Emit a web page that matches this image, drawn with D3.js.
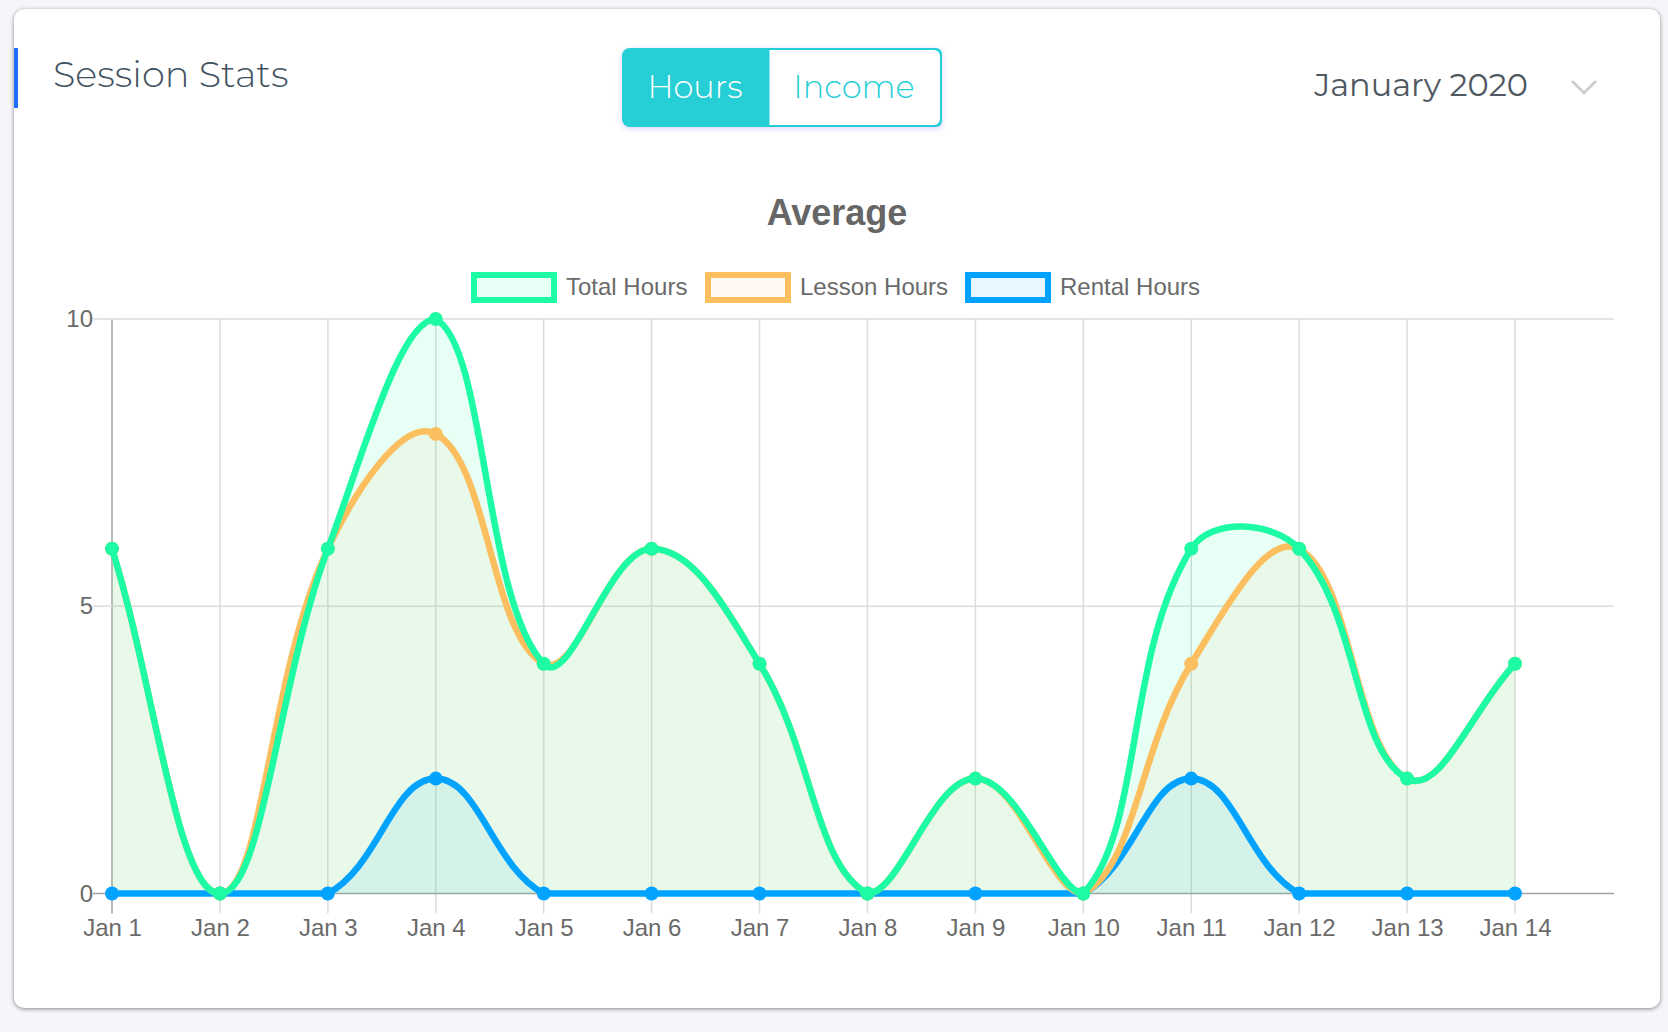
<!DOCTYPE html>
<html><head><meta charset="utf-8">
<script src="https://cdnjs.cloudflare.com/ajax/libs/d3/7.8.5/d3.min.js"></script>
<style>
html,body{margin:0;padding:0;background:#f4f6fa;width:1668px;height:1032px;overflow:hidden}
svg{display:block}
</style></head><body><svg id="c" width="1668" height="1032"></svg>
<script>
const labels=["Jan 1","Jan 2","Jan 3","Jan 4","Jan 5","Jan 6","Jan 7","Jan 8","Jan 9","Jan 10","Jan 11","Jan 12","Jan 13","Jan 14"];
const total=[6,0,6,10,4,6,4,0,2,0,6,6,2,4];
const lesson=[6,0,6,8,4,6,4,0,2,0,4,6,2,4];
const rental=[0,0,0,2,0,0,0,0,0,0,2,0,0,0];
const yTicks=[0,5,10];
const seriesNames=["Total Hours","Lesson Hours","Rental Hours"];
const colors=["#1dfba5","#fbbf5f","#02a2ff"];
const fills=["rgba(29,251,165,0.1)","rgba(251,191,95,0.09)","rgba(2,162,255,0.09)"];
const svg=d3.select("#c");
const M="Montserrat, 'Open Sans', Lato, sans-serif";
const H="'Liberation Sans', Arial, sans-serif";
const textGrey="#6a6a6a";
svg.append("rect").attr("x",14).attr("y",9).attr("width",1646).attr("height",999).attr("rx",10)
 .attr("fill","#fff").style("filter","drop-shadow(0 1px 2px rgba(0,0,0,.45))");
svg.append("rect").attr("x",14).attr("y",48).attr("width",4).attr("height",60).attr("fill","#1f70fb");
svg.append("text").attr("x",53).attr("y",87).attr("font-family",M).attr("font-weight",300).attr("font-size",36.7).attr("fill","#3f5260").text("Session Stats");
svg.append("path").attr("d","M630,48H936a6,6 0 0 1 6,6V121a6,6 0 0 1-6,6H630a8,8 0 0 1-8-8V56a8,8 0 0 1 8-8Z").attr("fill","#26ced6").style("filter","drop-shadow(0 2px 3px rgba(90,70,255,.22))");
svg.append("path").attr("d","M769.5,50H934a6,6 0 0 1 6,6V119a6,6 0 0 1-6,6H769.5Z").attr("fill","#fff");
svg.append("text").attr("x",695).attr("y",98).attr("text-anchor","middle").attr("font-family",M).attr("font-weight",300).attr("font-size",32).attr("fill","#fff").text("Hours");
svg.append("text").attr("x",854).attr("y",98).attr("text-anchor","middle").attr("font-family",M).attr("font-weight",300).attr("font-size",32).attr("fill","#26ced6").text("Income");
svg.append("text").attr("x",1528).attr("y",96).attr("text-anchor","end").attr("font-family",M).attr("font-weight",400).attr("font-size",32).attr("fill","#50585f").text("January 2020");
svg.append("path").attr("d","M1572,81L1584,93L1596,81").attr("fill","none").attr("stroke","#c8ccd0").attr("stroke-width",2.5);
svg.append("text").attr("x",837).attr("y",225).attr("text-anchor","middle").attr("font-family",H).attr("font-weight",700).attr("font-size",36).attr("fill","#666").text("Average");
const x=d3.scalePoint().domain(labels).range([112,1515]);
const y=d3.scaleLinear().domain([0,10]).range([893.5,319]);
const g=svg.append("g");
const gx=g.append("g").attr("transform","translate(0,893.5)").call(d3.axisBottom(x).tickSize(0).tickPadding(25));
gx.selectAll(".domain").remove();
gx.selectAll("text").attr("font-family",H).attr("font-size",24).attr("fill",textGrey);
const gy=g.append("g").attr("transform","translate(112,0)").call(d3.axisLeft(y).tickValues(yTicks).tickSize(0).tickPadding(19).tickFormat(d3.format("d")));
gy.selectAll(".domain").remove();
gy.selectAll("text").attr("font-family",H).attr("font-size",24).attr("fill",textGrey);
g.selectAll("line.v").data(labels).join("line").attr("class","v").attr("x1",d=>x(d)).attr("x2",d=>x(d)).attr("y1",y(10)).attr("y2",y(0)+20).attr("stroke",(d,i)=>i?"#dcdcdc":"#a2a2a2").attr("stroke-width",1.5);
g.selectAll("line.h").data(yTicks).join("line").attr("class","h").attr("x1",x(labels[0])-19).attr("x2",1614).attr("y1",d=>y(d)).attr("y2",d=>y(d)).attr("stroke",d=>d?"#dcdcdc":"#a2a2a2").attr("stroke-width",1.5);

// Chart.js-style spline with tension 0.4, control points capped to the plot area
const plotTop=y(10), plotBottom=y(0), tension=0.4;
function SplineCurve(context){this._context=context;}
SplineCurve.prototype={
 areaStart(){this._line=0;},
 areaEnd(){this._line=NaN;},
 lineStart(){this._pts=[];},
 point(px,py){this._pts.push([+px,+py]);},
 lineEnd(){
  const p=this._pts,n=p.length,c=this._context;
  const ctrl=p.map((cur,i)=>{
   const a=p[Math.max(i-1,0)],b=p[Math.min(i+1,n-1)];
   const d01=Math.hypot(cur[0]-a[0],cur[1]-a[1]),d12=Math.hypot(b[0]-cur[0],b[1]-cur[1]);
   const sum=d01+d12||1,fa=tension*d01/sum,fb=tension*d12/sum;
   const cap=v=>Math.min(plotBottom,Math.max(plotTop,v));
   return {pv:[cur[0]-fa*(b[0]-a[0]),cap(cur[1]-fa*(b[1]-a[1]))],nx:[cur[0]+fb*(b[0]-a[0]),cap(cur[1]+fb*(b[1]-a[1]))]};
  });
  if(this._line===1)c.lineTo(p[0][0],p[0][1]);else c.moveTo(p[0][0],p[0][1]);
  for(let i=1;i<n;i++)c.bezierCurveTo(ctrl[i-1].nx[0],ctrl[i-1].nx[1],ctrl[i].pv[0],ctrl[i].pv[1],p[i][0],p[i][1]);
  if(this._line===1)c.closePath();
  if(this._line>=0)this._line=1-this._line;
 }
};
const curve=ctx=>new SplineCurve(ctx);
const seriesList=[total,lesson,rental];
const upper=d3.line().x((d,i)=>x(labels[i])).y(d=>y(d)).curve(curve);
const area=d3.area().x((d,i)=>x(labels[i])).y0(y(0)).y1(d=>y(d)).curve(curve);
[2,1,0].forEach(k=>{
 g.append("path").datum(seriesList[k]).attr("d",area).attr("fill",fills[k]);
});
[2,1,0].forEach(k=>{
 const s=seriesList[k];
 g.append("path").datum(s).attr("d",upper).attr("fill","none").attr("stroke",colors[k]).attr("stroke-width",6.5);
 g.selectAll(null).data(s).join("circle").attr("cx",(d,i)=>x(labels[i])).attr("cy",d=>y(d)).attr("r",7).attr("fill",colors[k]);
});
const legX=[474,708,968];
seriesNames.forEach((n,k)=>{
 svg.append("rect").attr("x",legX[k]).attr("y",275).attr("width",80).attr("height",25).attr("fill",fills[k]).attr("stroke",colors[k]).attr("stroke-width",6);
 svg.append("text").attr("x",legX[k]+92).attr("y",294.5).attr("font-family",H).attr("font-size",24).attr("fill",textGrey).text(n);
});
</script></body></html>
